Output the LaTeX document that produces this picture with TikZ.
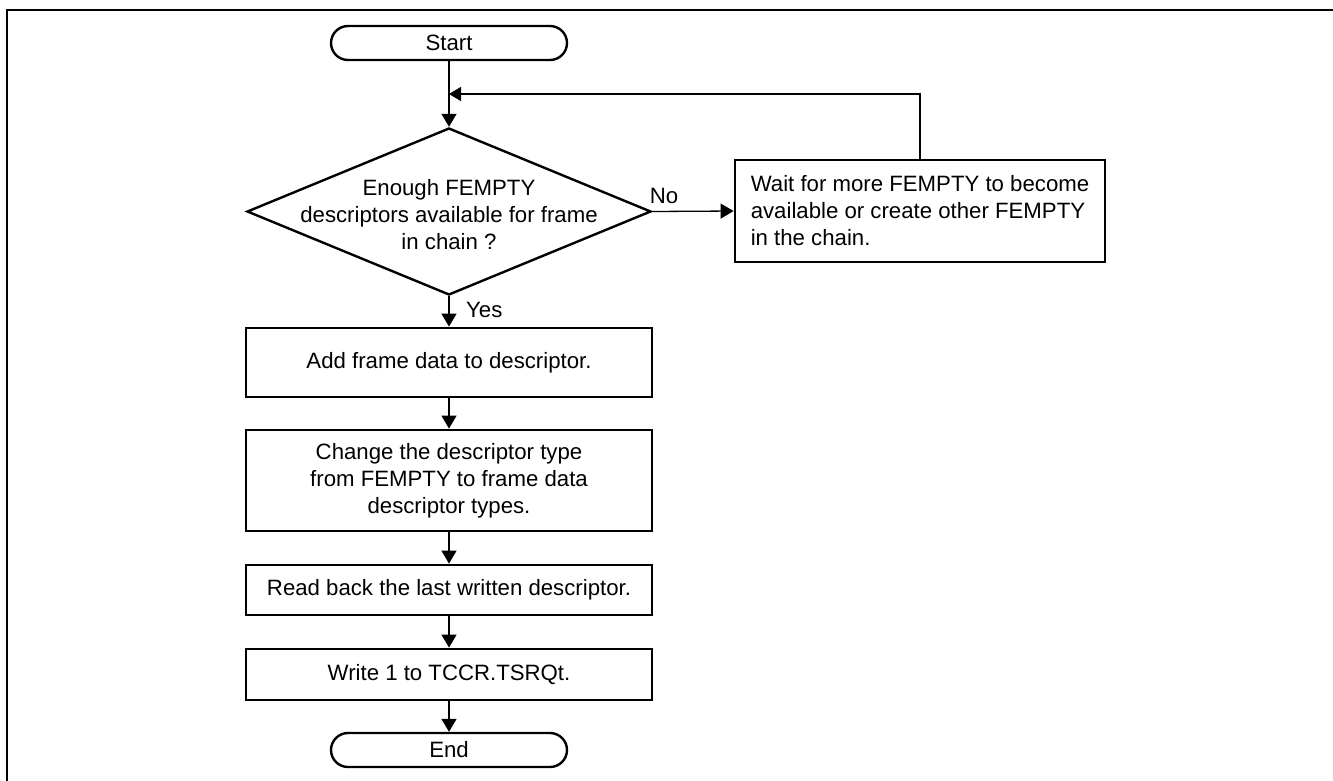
\documentclass[tikz,border=0pt]{standalone}
\usepackage{fontspec}
\setmainfont{Liberation Sans}
\usetikzlibrary{arrows.meta,shapes.geometric}
\begin{document}
\begin{tikzpicture}[x=1pt,y=-1pt,
  every node/.style={font=\fontsize{22.2}{27}\selectfont, inner sep=0pt},
  box/.style={draw, line width=2.8pt, minimum width=406pt, align=center},
  term/.style={draw, line width=2.4pt, rounded corners=17pt, minimum width=236pt, minimum height=34pt},
  conn/.style={line width=1.3pt, -{Triangle[length=13pt,width=15pt]}}]
\useasboundingbox (0,0) rectangle (1333,780);
\draw[line width=2.6pt] (7,10) rectangle (1345,800);
\node[term] (start) at (449,43) {Start};
\node[draw, diamond, line width=2.4pt, minimum width=404pt, minimum height=167pt] (dec) at (449,211.5) {};
\node[align=center] (dectext) at (449,215) {Enough FEMPTY\\descriptors available for frame\\in chain ?};
\node[draw, line width=2.8pt, minimum width=370pt, minimum height=102pt, align=left] (wait) at (920,211) {Wait for more FEMPTY to become\\available or create other FEMPTY\\in the chain.};
\node[box, minimum height=69pt] (add) at (449,362.5) {Add frame data to descriptor.};
\node[box, minimum height=101pt] (change) at (449,480.5) {Change the descriptor type\\from FEMPTY to frame data\\descriptor types.};
\node[box, minimum height=50pt] (read) at (449,590) {Read back the last written descriptor.};
\node[box, minimum height=51pt] (write) at (449,674.5) {Write 1 to TCCR.TSRQt.};
\node[term] (end) at (449,750) {End};
\node[anchor=west] (yes) at (466,310) {Yes};
\node (no) at (664,196) {No};
\coordinate (lp) at (920,94);
\draw[conn] (start) -- (dec);
\draw[conn] (dec.east) -- (wait.west);
\draw[line width=1.3pt, -{Triangle[length=12pt,width=14pt]}] (wait.north) -- (lp) -- (lp -| start.south);
\draw[conn] (dec.south) -- (add.north);
\draw[conn] (add) -- (change);
\draw[conn] (change) -- (read);
\draw[conn] (read) -- (write);
\draw[conn] (write) -- (end);
\end{tikzpicture}
\end{document}
